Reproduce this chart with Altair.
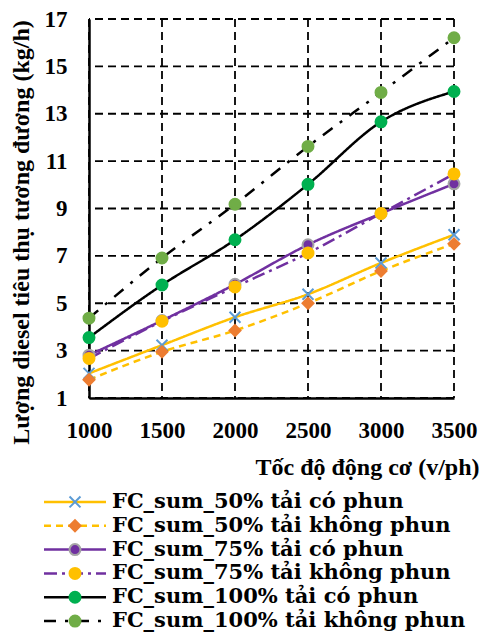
import altair as alt
import pandas as pd

rpm = [1000, 1500, 2000, 2500, 3000, 3500]
series = [
    "FC_sum_50% tải có phun",
    "FC_sum_50% tải không phun",
    "FC_sum_75% tải có phun",
    "FC_sum_75% tải không phun",
    "FC_sum_100% tải có phun",
    "FC_sum_100% tải không phun",
]
fc50_co = [2.04, 3.23, 4.41, 5.38, 6.70, 7.89]
fc50_khong = [1.77, 2.95, 3.85, 5.00, 6.36, 7.51]
fc75_co = [2.81, 4.27, 5.80, 7.47, 8.79, 10.04]
fc75_khong = [2.67, 4.24, 5.69, 7.12, 8.79, 10.46]
fc100_co = [3.55, 5.77, 7.68, 10.02, 12.66, 13.94]
fc100_khong = [4.37, 6.91, 9.18, 11.62, 13.90, 16.21]
y_ticks = [1, 3, 5, 7, 9, 11, 13, 15, 17]

line_colors = ["#FFC000", "#FFC000", "#7030A0", "#7030A0", "#000000", "#000000"]
dashes = [[1, 0], [7, 5], [1, 0], [13, 5, 3, 5], [1, 0], [12, 9, 3, 9]]
X_PATH = "M-1,-1L1,1M-1,1L1,-1"
marker_shapes = [X_PATH, "diamond", "circle", "circle", "circle", "circle"]
marker_fill = ["#5B9BD5", "#ED7D31", "#7030A0", "#FFC000", "#00B050", "#70AD47"]
marker_stroke = ["#5B9BD5", "#ED7D31", "#A5A5A5", "#FFC000", "#00B050", "#70AD47"]

values = [fc50_co, fc50_khong, fc75_co, fc75_khong, fc100_co, fc100_khong]
rows = []
for i, (s, v) in enumerate(zip(series, values)):
    for r, f in zip(rpm, v):
        rows.append({"series": s, "idx": i, "rpm": r, "fc": f})
df = pd.DataFrame(rows)
leg = pd.DataFrame({"series": series, "idx": list(range(len(series)))})
ygrid = pd.DataFrame({"fc": y_ticks})
xgrid = pd.DataFrame({"rpm": rpm})

FONT = "Liberation Serif"
LFONT = "DejaVu Serif"

color_s = alt.Scale(domain=series, range=line_colors)
dash_s = alt.Scale(domain=series, range=dashes)
shape_s = alt.Scale(domain=series, range=marker_shapes)
fill_s = alt.Scale(domain=series, range=marker_fill)
stroke_s = alt.Scale(domain=series, range=marker_stroke)
xs = alt.Scale(domain=[1000, 3500], nice=False, zero=False)
ys = alt.Scale(domain=[1, 17], nice=False, zero=False)

common_axis = dict(
    labelFont=FONT, titleFont=FONT, labelFontWeight="bold", titleFontWeight="bold",
    labelFontSize=23, titleFontSize=24, labelColor="black", titleColor="black",
    grid=False, domain=True, domainColor="black", domainWidth=2.5,
    ticks=False, labelFlush=False,
)

x_enc = alt.X(
    "rpm:Q", scale=xs,
    axis=alt.Axis(
        values=rpm, format="d", title="Tốc độ động cơ (v/ph)",
        titleAlign="right", titleX=390, titleY=76, titleBaseline="alphabetic",
        labelPadding=21, **common_axis,
    ),
)
y_enc = alt.Y(
    "fc:Q", scale=ys,
    axis=alt.Axis(
        values=y_ticks, title="Lượng diesel tiêu thụ tương đương (kg/h)",
        titleAngle=-90, titleAlign="center", titleBaseline="middle",
        titleX=-68, titleY=213, labelPadding=22, **common_axis,
    ),
)

grid_style = dict(color="black", strokeWidth=1.8, strokeDash=[8, 5])
hgrid = alt.Chart(ygrid).mark_rule(**grid_style).encode(y=y_enc)
vgrid = alt.Chart(xgrid).mark_rule(**grid_style).encode(x=x_enc)

lines = alt.Chart(df).mark_line(strokeWidth=2.5, interpolate="monotone").encode(
    x=alt.X("rpm:Q", scale=xs), y=alt.Y("fc:Q", scale=ys),
    color=alt.Color("series:N", scale=color_s, legend=None),
    strokeDash=alt.StrokeDash("series:N", scale=dash_s, legend=None),
)
points = alt.Chart(df).mark_point(size=120, opacity=1, fillOpacity=1, strokeWidth=2).encode(
    x=alt.X("rpm:Q", scale=xs), y=alt.Y("fc:Q", scale=ys),
    shape=alt.Shape("series:N", scale=shape_s, legend=None),
    fill=alt.Fill("series:N", scale=fill_s, legend=None),
    stroke=alt.Stroke("series:N", scale=stroke_s, legend=None),
    order="idx:Q",
)
main = alt.layer(hgrid, vgrid, lines, points).properties(width=365, height=379)

ly = alt.Y("series:N", sort=series, axis=None,
           scale=alt.Scale(domain=series, paddingInner=0, paddingOuter=0))
leg_line = alt.Chart(leg).mark_rule(strokeWidth=2.5).encode(
    x=alt.value(-45), x2=alt.value(17), y=ly,
    color=alt.Color("series:N", scale=color_s, legend=None),
    strokeDash=alt.StrokeDash("series:N", scale=dash_s, legend=None),
)
leg_pt = alt.Chart(leg).mark_point(size=120, opacity=1, fillOpacity=1, strokeWidth=2).encode(
    x=alt.value(-14), y=ly,
    shape=alt.Shape("series:N", scale=shape_s, legend=None),
    fill=alt.Fill("series:N", scale=fill_s, legend=None),
    stroke=alt.Stroke("series:N", scale=stroke_s, legend=None),
)
leg_txt = alt.Chart(leg).mark_text(
    align="left", baseline="middle", font=LFONT, fontWeight="bold", fontSize=21, color="black"
).encode(x=alt.value(23), y=ly, text="series:N")
legend = alt.layer(leg_line, leg_pt, leg_txt).properties(width=360, height=143)

chart = alt.vconcat(
    main, legend, spacing=11, background="white", padding=0
).resolve_scale(
    x="independent", y="independent"
).configure_view(stroke=None)

chart.save("out.html", embed_options={"renderer": "svg", "actions": False})
